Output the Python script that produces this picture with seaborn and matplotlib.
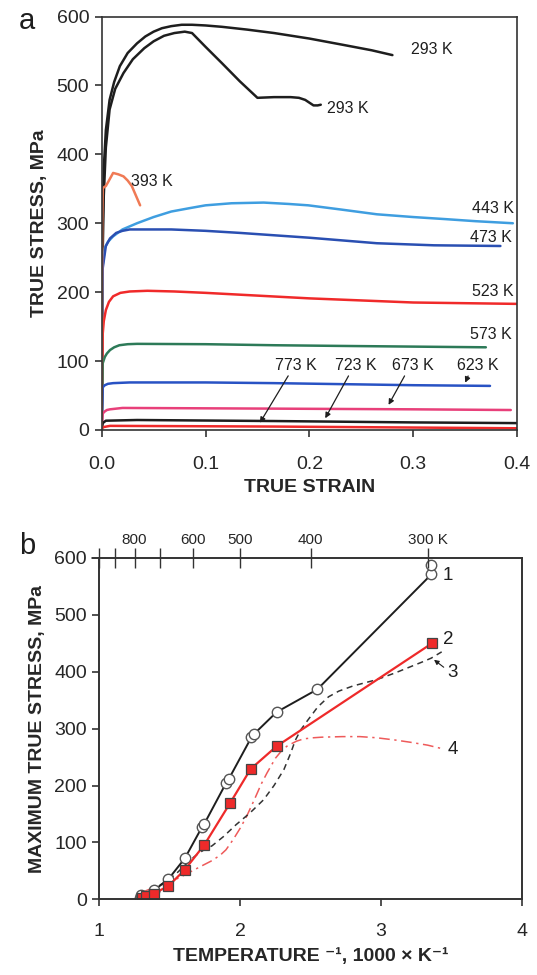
import numpy as np
import pandas as pd
import matplotlib
matplotlib.use("Agg")
import matplotlib.pyplot as plt
import seaborn as sns

# === Panel a : true stress-strain curves ===
strain_293_top = [0.0, 0.0005, 0.001, 0.002, 0.004, 0.0076, 0.012, 0.0175, 0.025, 0.034, 0.042, 0.05, 0.058,
                  0.067, 0.077, 0.087, 0.1, 0.116, 0.14, 0.166, 0.2, 0.232, 0.26, 0.28]
stress_293_top = [0, 200, 300, 380, 435, 479, 505, 528, 547, 561, 571, 578, 583,
                  586, 588, 588, 587, 585, 581, 576, 568, 559, 551, 544]

strain_293_low = [0.0, 0.0005, 0.001, 0.002, 0.004, 0.0076, 0.013, 0.021, 0.03, 0.041, 0.05, 0.06, 0.07,
                  0.08, 0.087, 0.1, 0.116, 0.133, 0.15, 0.166, 0.182, 0.19, 0.196, 0.201, 0.204, 0.208, 0.211]
stress_293_low = [0, 180, 260, 340, 410, 465, 495, 518, 538, 554, 564, 572, 576,
                  578, 576, 556, 532, 506, 482, 483, 483, 482, 479, 474, 471, 471, 472]

strain_393 = [0.0, 0.0005, 0.001, 0.004, 0.007, 0.011, 0.016, 0.021, 0.025, 0.029, 0.033, 0.037]
stress_393 = [0, 300, 351, 354, 362, 373, 371, 368, 362, 354, 340, 326]

strain_443 = [0.0, 0.0005, 0.001, 0.003, 0.006, 0.011, 0.02, 0.034, 0.05, 0.067, 0.085, 0.1, 0.125,
              0.156, 0.18, 0.199, 0.23, 0.265, 0.3, 0.331, 0.36, 0.396]
stress_443 = [0, 200, 240, 264, 273, 281, 291, 300, 309, 317, 322, 326, 329,
              330, 328, 326, 320, 313, 309, 306, 303, 300]

strain_473 = [0.0, 0.0005, 0.001, 0.004, 0.008, 0.014, 0.02, 0.027, 0.067, 0.1, 0.133, 0.2, 0.265, 0.32, 0.384]
stress_473 = [0, 200, 235, 267, 278, 286, 289, 291, 291, 289, 286, 279, 271, 268, 267]

strain_523 = [0.0, 0.001, 0.002, 0.004, 0.007, 0.011, 0.018, 0.027, 0.044, 0.07, 0.1, 0.15, 0.2, 0.25, 0.3, 0.35, 0.4]
stress_523 = [0, 140, 158, 174, 186, 194, 199, 201, 202, 201, 199, 195, 191, 188, 185, 184, 183]

strain_573 = [0.0, 0.001, 0.003, 0.005, 0.008, 0.012, 0.017, 0.025, 0.034, 0.1, 0.166, 0.23, 0.3, 0.37]
stress_573 = [0, 97, 106, 111, 116, 120, 123, 124.5, 125, 124.5, 123, 122, 121, 120]

strain_623 = [0.0, 0.001, 0.003, 0.006, 0.011, 0.027, 0.1, 0.166, 0.3, 0.374]
stress_623 = [0, 62, 65, 67, 68, 69, 69, 68, 65, 64]

strain_673 = [0.0, 0.001, 0.003, 0.005, 0.008, 0.02, 0.166, 0.3, 0.394]
stress_673 = [0, 24, 27, 29, 30, 32, 31, 30, 29]

strain_723 = [0.0, 0.001, 0.004, 0.034, 0.166, 0.3, 0.4]
stress_723 = [0, 10, 13.5, 14.5, 13, 11, 10]

strain_773 = [0.0, 0.001, 0.008, 0.166, 0.4]
stress_773 = [0, 4, 6, 5, 2.5]

# === Panel b : maximum true stress vs inverse temperature ===
inv_t_1 = [1.29, 1.296, 1.386, 1.389, 1.489, 1.607, 1.729, 1.746, 1.899, 1.918, 2.08, 2.10, 2.258, 2.547, 3.356, 3.356]
smax_1 = [2, 8, 14, 16, 35, 72, 127, 133, 204, 211, 285, 291, 329, 369, 571, 588]

inv_t_2 = [1.30, 1.33, 1.386, 1.489, 1.607, 1.746, 1.928, 2.074, 2.258, 3.361]
smax_2 = [2, 5, 10, 23, 52, 96, 169, 229, 269, 450]

inv_t_3 = [1.30, 1.35, 1.40, 1.45, 1.50, 1.55, 1.60, 1.65, 1.70, 1.75, 1.80, 1.88, 1.97, 2.07, 2.166, 2.24,
           2.31, 2.36, 2.39, 2.43, 2.48, 2.55, 2.627, 2.70, 2.80, 2.967, 3.1, 3.21, 3.30, 3.356, 3.43]
smax_3 = [5, 12, 20, 28, 36, 46, 58, 70, 80, 88, 94, 110, 131, 152, 175, 200,
          228, 258, 279, 298, 315, 338, 356, 366, 375, 386, 398, 409, 418, 424, 435]

inv_t_4 = [1.30, 1.35, 1.40, 1.45, 1.50, 1.55, 1.60, 1.66, 1.729, 1.80, 1.86, 1.899, 1.95, 2.0, 2.044, 2.10,
           2.15, 2.19, 2.25, 2.30, 2.336, 2.40, 2.45, 2.52, 2.579, 2.725, 2.85, 2.967, 3.1, 3.21, 3.33, 3.43]
smax_4 = [12, 17, 21, 25, 30, 36, 42, 50, 59, 68, 78, 87, 105, 125, 145, 175,
          203, 222, 248, 263, 270, 278, 282, 284, 285, 286, 286, 284, 280, 276, 271, 265]

top_temps = [1000, 900, 800, 700, 600, 500, 400, 300]
top_labels = ["", "", "800", "", "600", "500", "400", "300 K"]

sns.set_theme(style="white")
plt.rcParams['font.family'] = ['Liberation Sans', 'DejaVu Sans']
plt.rcParams['axes.edgecolor'] = '#333333'
plt.rcParams['axes.linewidth'] = 1.2

fig = plt.figure(figsize=(5.37, 9.75), dpi=100)
W, H = 537, 975
ax = fig.add_axes([101.7 / W, 1 - 430 / H, (517 - 101.7) / W, (430 - 16.5) / H])
axb = fig.add_axes([99.3 / W, 1 - 899.3 / H, (522 - 99.3) / W, (899.3 - 558) / H])

curves_a = [
    (strain_293_top, stress_293_top, '#1e1e1e'),
    (strain_293_low, stress_293_low, '#1e1e1e'),
    (strain_443, stress_443, '#3f9ee0'),
    (strain_473, stress_473, '#2a4fb2'),
    (strain_523, stress_523, '#f02a2a'),
    (strain_573, stress_573, '#2d7a58'),
    (strain_623, stress_623, '#2852c4'),
    (strain_673, stress_673, '#e8407a'),
    (strain_723, stress_723, '#1e1e1e'),
    (strain_773, stress_773, '#f02a2a'),
    (strain_393, stress_393, '#f07a55'),
]
for xs, ys, c in curves_a:
    d = pd.DataFrame({'strain': xs, 'stress': ys})
    sns.lineplot(data=d, x='strain', y='stress', ax=ax, color=c, lw=1.8,
                 sort=False, estimator=None)

ax.set_xlim(0, 0.4)
ax.set_ylim(0, 600)
ax.set_xticks([0.0, 0.1, 0.2, 0.3, 0.4])
ax.set_xticklabels(["0.0", "0.1", "0.2", "0.3", "0.4"])
ax.set_yticks([0, 100, 200, 300, 400, 500, 600])
ax.tick_params(direction='out', length=5, width=1.2, labelsize=14, color='#333333',
               bottom=True, left=True)
ax.tick_params(axis='x', pad=14)
ax.tick_params(axis='y', pad=4)
ax.set_xlabel("TRUE STRAIN", fontsize=14, fontweight='bold', labelpad=4)
ax.set_ylabel("TRUE STRESS, MPa", fontsize=14, fontweight='bold', labelpad=6)
for s in ax.spines.values():
    s.set_visible(True)

lab = dict(fontsize=11.5, color='#1e1e1e')
ax.text(0.298, 552, "293 K", va='center', ha='left', **lab)
ax.text(0.217, 467, "293 K", va='center', ha='left', **lab)
ax.text(0.028, 361, "393 K", va='center', ha='left', **lab)
ax.text(0.397, 322, "443 K", va='center', ha='right', **lab)
ax.text(0.395, 280, "473 K", va='center', ha='right', **lab)
ax.text(0.397, 201, "523 K", va='center', ha='right', **lab)
ax.text(0.395, 138, "573 K", va='center', ha='right', **lab)
arrows = [("773 K", 0.1875, 0.181, 0.151, 7),
          ("723 K", 0.245, 0.239, 0.214, 13.5),
          ("673 K", 0.300, 0.293, 0.275, 33),
          ("623 K", 0.362, 0.354, 0.349, 65)]
for txt, tx, ax0, ax1, ay1 in arrows:
    ax.text(tx, 94, txt, va='center', ha='center', **lab)
    ax.annotate("", xy=(ax1, ay1), xytext=(ax0, 82),
                arrowprops=dict(arrowstyle='-|>', color='#1e1e1e', lw=0.9,
                                mutation_scale=8))

fig.text(19 / W, 1 - 29 / H, "a", fontsize=21, color='#1e1e1e')

# --- panel b ---
d1 = pd.DataFrame({'x': inv_t_1, 'y': smax_1})
d2 = pd.DataFrame({'x': inv_t_2, 'y': smax_2})
d3 = pd.DataFrame({'x': inv_t_3, 'y': smax_3})
d4 = pd.DataFrame({'x': inv_t_4, 'y': smax_4})

sns.lineplot(data=d4, x='x', y='y', ax=axb, color='#ee5a5a', lw=1.1,
             sort=False, estimator=None, linestyle=(0, (7, 3, 1.5, 3)))
sns.lineplot(data=d3, x='x', y='y', ax=axb, color='#333333', lw=1.1,
             sort=False, estimator=None, linestyle=(0, (4, 3)))
sns.lineplot(data=d1, x='x', y='y', ax=axb, color='#1e1e1e', lw=1.4,
             sort=False, estimator=None, marker='o', markersize=7.5,
             markerfacecolor='white', markeredgecolor='#555555', markeredgewidth=1.0)
sns.lineplot(data=d2, x='x', y='y', ax=axb, color='#ee2a2a', lw=1.6,
             sort=False, estimator=None, marker='s', markersize=7.5,
             markerfacecolor='#ee2a2a', markeredgecolor='#444444', markeredgewidth=0.9)

axb.set_xlim(1, 4)
axb.set_ylim(0, 600)
axb.set_xticks([1, 2, 3, 4])
axb.set_yticks([0, 100, 200, 300, 400, 500, 600])
axb.tick_params(direction='out', length=5, width=1.2, labelsize=14, color='#333333',
                bottom=True, left=True)
axb.tick_params(axis='x', pad=12)
axb.tick_params(axis='y', pad=4)
axb.set_xlabel("TEMPERATURE \u207b\u00b9, 1000 \u00d7 K\u207b\u00b9",
               fontsize=14, fontweight='bold', labelpad=6)
axb.set_ylabel("MAXIMUM TRUE STRESS, MPa", fontsize=14, fontweight='bold', labelpad=6)

top = axb.twiny()
top.set_xlim(axb.get_xlim())
top.set_xticks([1000 / t for t in top_temps])
top.set_xticklabels(top_labels)
top.tick_params(direction='inout', length=14, width=1.0, labelsize=11, color='#333333',
                top=True, pad=1)
for s in top.spines.values():
    s.set_visible(True)
# short stub of the top axis line left of the frame
top.plot([-0.018, 0], [1, 1], transform=top.transAxes, clip_on=False,
         color='#333333', lw=1.2)

lb = dict(fontsize=13.5, color='#1e1e1e', va='center', ha='left')
axb.text(3.44, 569, "1", **lb)
axb.text(3.44, 456, "2", **lb)
axb.text(3.47, 398, "3", **lb)
axb.text(3.47, 263, "4", **lb)
axb.annotate("", xy=(3.36, 424), xytext=(3.46, 405),
             arrowprops=dict(arrowstyle='-|>', color='#1e1e1e', lw=0.8, mutation_scale=7))

fig.text(19 / W, 1 - 554 / H, "b", fontsize=21, color='#1e1e1e')

fig.savefig("out.png", dpi=100)
